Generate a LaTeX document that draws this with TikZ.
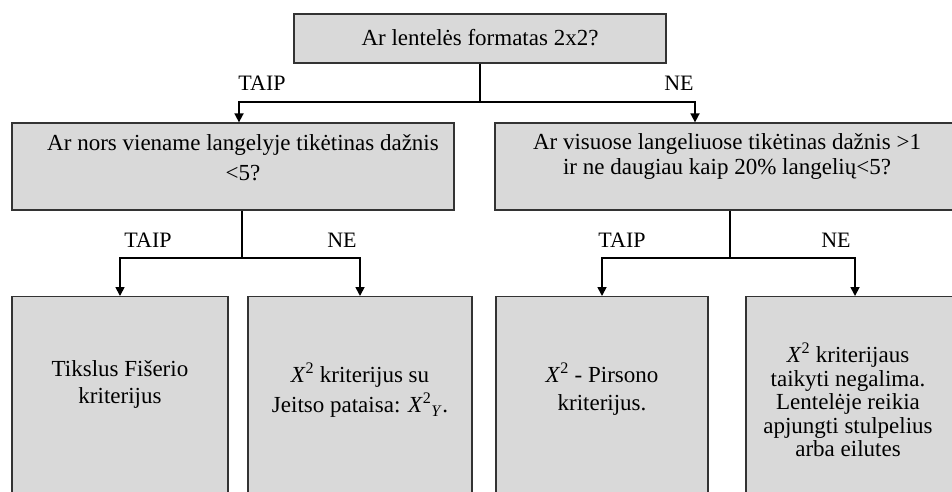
\documentclass[tikz,border=0pt]{standalone}
\usepackage{fontspec}
\setmainfont{Liberation Serif}
\usetikzlibrary{arrows.meta,calc}
\definecolor{boxgray}{HTML}{D9D9D9}
\definecolor{edgegray}{HTML}{333333}
\newcommand{\chisq}{\textit{X}\textsuperscript{2}}
\begin{document}
\begin{tikzpicture}[x=1pt,y=-1pt,
  box/.style={draw=edgegray, line width=1.3pt, fill=boxgray, inner sep=0pt},
  txt/.style={align=center, inner sep=0pt, font=\fontsize{23}{27}\selectfont},
  lbl/.style={inner sep=0pt, font=\fontsize{22}{24}\selectfont},
  conn/.style={line width=1.7pt, black},
  arr/.style={conn, -{Triangle[width=9pt,length=9pt]}}]
\useasboundingbox (0,0) rectangle (952,491);
\clip (0,0) rectangle (952,491);

% question boxes
\node[box, minimum width=372, minimum height=49] (top) at (480,38.5) {};
\node[box, minimum width=442, minimum height=87] (l2a) at (233,166.5) {};
\node[box, minimum width=470, minimum height=87] (l2b) at (730,166.5) {};

% answer boxes (they run on below the lower edge)
\node[box, minimum width=216, minimum height=230, anchor=north] (b1) at (120,296) {};
\node[box, minimum width=224, minimum height=230, anchor=north] (b2) at (360,296) {};
\node[box, minimum width=212, minimum height=230, anchor=north] (b3) at (602,296) {};
\node[box, minimum width=218, minimum height=230, anchor=north] (b4) at (855,296) {};

% texts
\node[txt] (ttop) at (480,38) {Ar lentelės formatas 2x2?};
\node[txt, font=\fontsize{23}{30}\selectfont] (tl2a) at (243,158) {Ar nors viename langelyje tikėtinas dažnis\\<5?};
\node[txt, font=\fontsize{23}{25}\selectfont] (tl2b) at (727,156) {Ar visuose langeliuose tikėtinas dažnis >1\\ir ne daugiau kaip 20\% langelių<5?};
\node[txt] (tb1) at (120,384) {Tikslus Fišerio\\kriterijus};
\node[txt, font=\fontsize{23}{30}\selectfont] (tb2) at (360,390) {\chisq\ kriterijus su\\Jeitso pataisa: \chisq{}\textsubscript{\textit{Y}}.};
\node[txt, font=\fontsize{23}{28}\selectfont] (tb3) at (602,389) {\chisq{} - Pirsono\\kriterijus.};
\node[txt, font=\fontsize{23}{23.5}\selectfont] (tb4) at (848,400) {\chisq\ kriterijaus\\taikyti negalima.\\Lentelėje reikia\\apjungti stulpelius\\arba eilutes};

% branch labels
\node[lbl] (y0) at (262,83) {TAIP};
\node[lbl] (n0) at (679,83) {NE};
\node[lbl] (y1) at (148,240) {TAIP};
\node[lbl] (n1) at (342,240) {NE};
\node[lbl] (y2) at (622,240) {TAIP};
\node[lbl] (n2) at (836,240) {NE};

% connectors
\coordinate (j0) at (480,102);
\coordinate (d1) at ([xshift=6pt]l2a.north);
\coordinate (d2) at ([xshift=-35pt]l2b.north);
\draw[conn] (top.south) -- (j0);
\draw[arr] (j0) -| (d1);
\draw[arr] (j0) -| (d2);

\coordinate (s1) at ([xshift=9pt]l2a.south);
\coordinate (j1) at (242,258);
\draw[conn] (s1) -- (j1);
\draw[arr] (j1) -| (b1.north);
\draw[arr] (j1) -| (b2.north);

\coordinate (j2) at (730,258);
\draw[conn] (l2b.south) -- (j2);
\draw[arr] (j2) -| (b3.north);
\draw[arr] (j2) -| (b4.north);
\end{tikzpicture}
\end{document}
